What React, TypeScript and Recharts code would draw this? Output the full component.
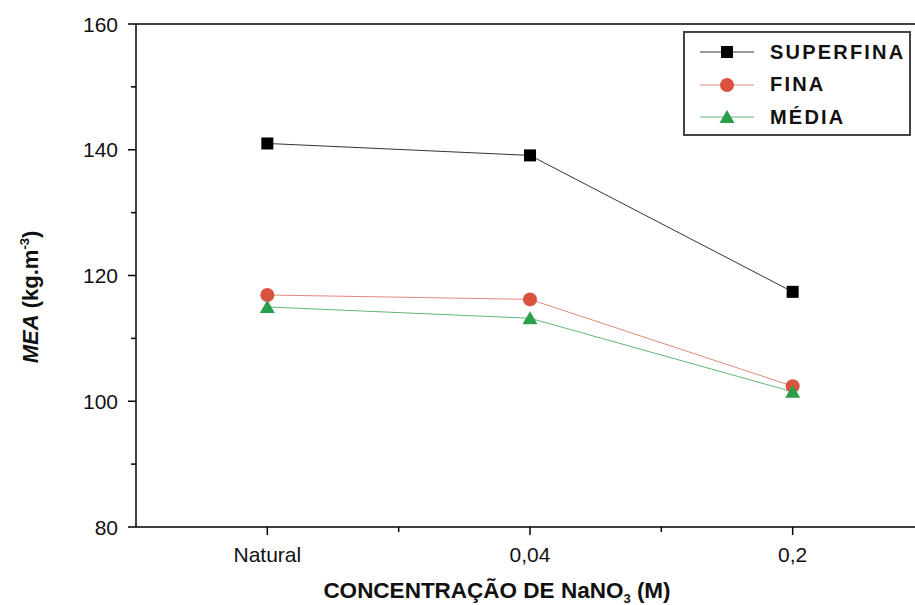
import { LineChart, Line, XAxis, YAxis, ReferenceLine } from "recharts";

const categories = ["Natural", "0,04", "0,2"];
const superfina = [141.0, 139.1, 117.4];
const fina = [116.9, 116.2, 102.4];
const media = [115.0, 113.2, 101.5];
const yTicks = [80, 90, 100, 110, 120, 130, 140, 150, 160];
const xTicks = [0, 0.5, 1, 1.5, 2];

const data = categories.map((label, i) => ({
  x: i,
  label,
  superfina: superfina[i],
  fina: fina[i],
  media: media[i],
}));

const FONT = "'Liberation Sans', Arial, sans-serif";
const RED = "#d9533f";
const RED_LINE = "#e2897b";
const GREEN = "#2a9f4b";
const GREEN_LINE = "#5fb878";

const SquareDot = ({ cx, cy }: any) => <rect x={cx - 6} y={cy - 6} width={12} height={12} fill="#000" />;
const CircleDot = ({ cx, cy }: any) => <circle cx={cx} cy={cy} r={7} fill={RED} />;
const TriangleDot = ({ cx, cy }: any) => (
  <polygon points={`${cx},${cy - 7} ${cx + 7.5},${cy + 6} ${cx - 7.5},${cy + 6}`} fill={GREEN} />
);

const YTick = ({ x, y, payload }: any) => {
  const major = payload.value % 20 === 0;
  return (
    <g>
      <line x1={x} x2={x - (major ? 8 : 5)} y1={y} y2={y} stroke="#000" strokeWidth={1.5} />
      {major && (
        <text x={x - 18} y={y + 7.5} textAnchor="end" fontFamily={FONT} fontSize={21} fill="#111">
          {payload.value}
        </text>
      )}
    </g>
  );
};

const XTick = ({ x, y, payload }: any) => {
  const major = Number.isInteger(payload.value);
  return (
    <g>
      <line x1={x} x2={x} y1={y} y2={y + (major ? 8 : 5)} stroke="#000" strokeWidth={1.5} />
      {major && (
        <text x={x} y={y + 35} textAnchor="middle" fontFamily={FONT} fontSize={21} fill="#111">
          {categories[payload.value]}
        </text>
      )}
    </g>
  );
};

const legendItems = [
  { name: "SUPERFINA", line: "#333", dot: "square" },
  { name: "FINA", line: RED_LINE, dot: "circle" },
  { name: "MÉDIA", line: GREEN_LINE, dot: "triangle" },
];

const LegendBox = () => (
  <div
    style={{
      position: "absolute",
      left: 683,
      top: 31,
      width: 224,
      height: 101,
      border: "2px solid #444",
      background: "#fff",
    }}
  >
    {legendItems.map((item, i) => (
      <div key={item.name} style={{ position: "absolute", left: 15, top: 6 + i * 32.5, height: 26, display: "flex", alignItems: "center" }}>
        <svg width={54} height={26}>
          <line x1={0} x2={54} y1={13} y2={13} stroke={item.line} strokeWidth={1} />
          {item.dot === "square" && <rect x={21} y={7} width={12} height={12} fill="#000" />}
          {item.dot === "circle" && <circle cx={27} cy={13} r={7} fill={RED} />}
          {item.dot === "triangle" && <polygon points="27,6 34.5,19 19.5,19" fill={GREEN} />}
        </svg>
        <span
          style={{
            marginLeft: 16,
            fontFamily: FONT,
            fontWeight: "bold",
            fontSize: 20,
            letterSpacing: 2.2,
            color: "#111",
          }}
        >
          {item.name}
        </span>
      </div>
    ))}
  </div>
);

export default function App() {
  return (
    <div style={{ position: "fixed", left: 0, top: 0, width: 915, height: 605, overflow: "hidden", background: "#fff" }}>
      <LineChart width={930} height={605} data={data} margin={{ top: 24, right: 6, bottom: 38, left: 76 }}>
        <XAxis
          dataKey="x"
          type="number"
          domain={[-0.5, 2.5]}
          ticks={xTicks}
          tickSize={0}
          tickMargin={0}
          tickLine={false}
          tick={<XTick />}
          height={40}
          axisLine={{ stroke: "#000", strokeWidth: 1.5 }}
          label={{
            content: () => (
              <text x={497} y={598} textAnchor="middle" fontFamily={FONT} fontWeight="bold" fontSize={22.5} fill="#111">
                CONCENTRAÇÃO DE NaNO
                <tspan dy={5} fontSize={13}>3</tspan>
                <tspan dy={-5}> (M)</tspan>
              </text>
            ),
          }}
        />
        <YAxis
          type="number"
          domain={[80, 160]}
          ticks={yTicks}
          width={60}
          tickSize={0}
          tickMargin={0}
          tickLine={false}
          tick={<YTick />}
          axisLine={{ stroke: "#000", strokeWidth: 1.5 }}
          label={{
            content: () => (
              <text
                transform="translate(38,297) rotate(-90)"
                textAnchor="middle"
                fontFamily={FONT}
                fontWeight="bold"
                fontSize={22}
                fill="#111"
              >
                <tspan fontStyle="italic">MEA</tspan> (kg.m
                <tspan dy={-9} fontSize={13}>-3</tspan>
                <tspan dy={9}>)</tspan>
              </text>
            ),
          }}
        />
        <ReferenceLine y={160} stroke="#000" strokeWidth={1.5} />
        <Line
          dataKey="superfina"
          type="linear"
          stroke="#333"
          strokeWidth={1}
          dot={<SquareDot />}
          activeDot={false}
          isAnimationActive={false}
        />
        <Line
          dataKey="fina"
          type="linear"
          stroke={RED_LINE}
          strokeWidth={1}
          dot={<CircleDot />}
          activeDot={false}
          isAnimationActive={false}
        />
        <Line
          dataKey="media"
          type="linear"
          stroke={GREEN_LINE}
          strokeWidth={1}
          dot={<TriangleDot />}
          activeDot={false}
          isAnimationActive={false}
        />
      </LineChart>
      <LegendBox />
    </div>
  );
}
